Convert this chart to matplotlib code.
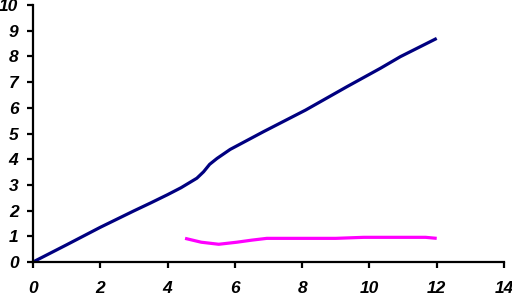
import matplotlib
matplotlib.use('Agg')
import matplotlib.pyplot as plt

# navy series
x_navy = [0, 1, 2, 3, 3.5, 4, 4.4, 4.87, 5.07, 5.25, 5.47, 5.86, 6.85, 8.1, 9.33, 10.33, 10.92, 12]
y_navy = [0, 0.67, 1.35, 1.99, 2.3, 2.62, 2.89, 3.26, 3.51, 3.8, 4.03, 4.38, 5.07, 5.91, 6.82, 7.54, 7.99, 8.7]

# magenta series
x_mag = [4.52, 5.0, 5.52, 6.06, 6.5, 6.95, 8, 9, 9.83, 10.5, 11.67, 12]
y_mag = [0.92, 0.77, 0.69, 0.77, 0.85, 0.92, 0.92, 0.92, 0.96, 0.96, 0.96, 0.92]

x_ticks = [0, 2, 4, 6, 8, 10, 12, 14]
y_ticks = [0, 1, 2, 3, 4, 5, 6, 7, 8, 9, 10]

plt.rcParams['font.family'] = ['Liberation Sans', 'DejaVu Sans']

fig = plt.figure(figsize=(5.12, 3.01), dpi=100)
ax = fig.add_axes([33 / 512, 39 / 301, 471 / 512, 257 / 301])

ax.plot(x_navy, y_navy, color='#000080', lw=2.3, solid_capstyle='butt')
ax.plot(x_mag, y_mag, color='#ff00ff', lw=2.3, solid_capstyle='butt')

ax.set_xlim(0, 14)
ax.set_ylim(0, 10)
ax.set_xticks(x_ticks)
ax.set_yticks(y_ticks)

for s in ['top', 'right']:
    ax.spines[s].set_visible(False)
for s in ['left', 'bottom']:
    ax.spines[s].set_linewidth(1.6)

ax.tick_params(axis='x', direction='out', length=4, width=1.6, pad=10, labelsize=12.5)
ax.tick_params(axis='y', direction='out', length=4.5, width=1.6, pad=6, labelsize=12.5)
for lab in ax.get_xticklabels() + ax.get_yticklabels():
    lab.set_fontweight('bold')
    lab.set_fontstyle('italic')

fig.savefig('out.png', dpi=100)
